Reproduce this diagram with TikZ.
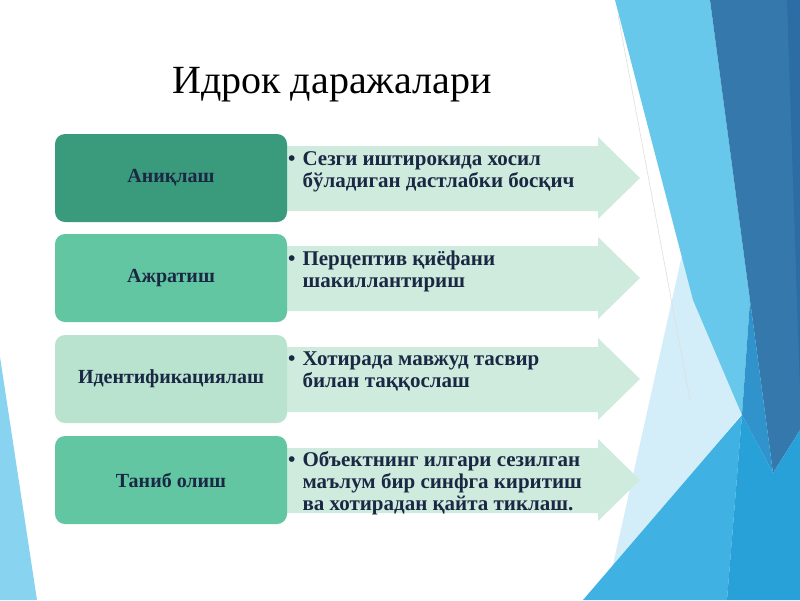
\documentclass[tikz,border=0pt]{standalone}
\usepackage{fontspec}
\setmainfont{Liberation Serif}
\usepackage{tikz}
\usetikzlibrary{positioning}

\definecolor{ink}{HTML}{1A2844}
\definecolor{tealdark}{HTML}{3A9A7C}
\definecolor{tealmid}{HTML}{63C6A2}
\definecolor{teallight}{HTML}{B9E2CF}
\definecolor{mint}{HTML}{CFEBDD}
\definecolor{skypale}{HTML}{D3EEF8}
\definecolor{skylight}{HTML}{68C8EC}
\definecolor{skymid}{HTML}{3FB1E2}
\definecolor{skydeep}{HTML}{28A0D8}
\definecolor{skystrip}{HTML}{3193CC}
\definecolor{navy}{HTML}{3578AC}
\definecolor{navydark}{HTML}{2B6DA4}
\definecolor{skycorner}{HTML}{88D3F0}

\tikzset{
	stage/.style={rounded corners=10pt, minimum width=232pt, minimum height=88pt,
		inner sep=0pt, text=ink, font=\bfseries\fontsize{20}{22}\selectfont},
	detail/.style={anchor=base west, inner sep=0pt, text=ink,
		font=\bfseries\fontsize{21}{22}\selectfont},
	band/.style={fill=mint},
}

\begin{document}
\begin{tikzpicture}[x=1pt,y=-1pt]
	
	\useasboundingbox (0,0) rectangle (800,600);
	\fill[white] (0,0) rectangle (800,600);
	
	% background facets
	\fill[skycorner] (0,357) -- (37,600) -- (0,600) -- cycle;
	\fill[skypale] (682,255) -- (745,410) -- (611,574) -- cycle;
	\draw[gray!25, line width=0.6pt] (618,15) -- (690,400);
	\fill[skylight] (615,0) -- (710,0) -- (750,300) -- (742,415) -- (693,300) -- cycle;
	\fill[navy] (710,0) -- (800,0) -- (800,430) -- (773,473) -- cycle;
	\fill[navydark] (787,0) -- (800,0) -- (800,390) -- cycle;
	\fill[skystrip] (750,300) -- (773,473) -- (742,415) -- cycle;
	\fill[skymid] (583,600) -- (742,415) -- (727,600) -- cycle;
	\fill[skydeep] (727,600) -- (742,415) -- (773,473) -- (800,430) -- (800,600) -- cycle;
	
	% title
	\node[font=\fontsize{40}{44}\selectfont] (title) at (332,85) {Идрок даражалари};
	
	% arrows behind the boxes
	\fill[band] (280,146) -- (598,146) -- (598,137) -- (640,178) -- (598,219) -- (598,211) -- (280,211) -- cycle;
	\fill[band] (280,246) -- (598,246) -- (598,237) -- (640,278) -- (598,319) -- (598,311) -- (280,311) -- cycle;
	\fill[band] (280,347) -- (598,347) -- (598,338) -- (640,379) -- (598,420) -- (598,412) -- (280,412) -- cycle;
	\fill[band] (280,448) -- (598,448) -- (598,439) -- (640,480) -- (598,521) -- (598,513) -- (280,513) -- cycle;
	
	% stages
	\node[stage, fill=tealdark] (aniq) at (171,178) {Аниқлаш};
	\node[stage, fill=tealmid] (ajrat) at (171,278) {Ажратиш};
	\node[stage, fill=teallight] (ident) at (171,379) {Идентификациялаш};
	\node[stage, fill=tealmid] (tanib) at (171,480) {Таниб олиш};
	
	% descriptions
	\node[detail] (aniqtxt) at (288,165) {\begin{tabular}[t]{@{}l@{\hspace{7pt}}l@{}}
			•&Сезги иштирокида хосил\\
			&бўладиган дастлабки босқич\end{tabular}};
	\node[detail] (ajrattxt) at (288,265) {\begin{tabular}[t]{@{}l@{\hspace{7pt}}l@{}}
			•&Перцептив қиёфани\\
			&шакиллантириш\end{tabular}};
	\node[detail] (identtxt) at (288,365) {\begin{tabular}[t]{@{}l@{\hspace{7pt}}l@{}}
			•&Хотирада мавжуд тасвир\\
			&билан таққослаш\end{tabular}};
	\node[detail] (tanibtxt) at (288,466) {\begin{tabular}[t]{@{}l@{\hspace{7pt}}l@{}}
			•&Объектнинг илгари сезилган\\
			&маълум бир синфга киритиш\\
			&ва хотирадан қайта тиклаш.\end{tabular}};
	
\end{tikzpicture}
\end{document}
